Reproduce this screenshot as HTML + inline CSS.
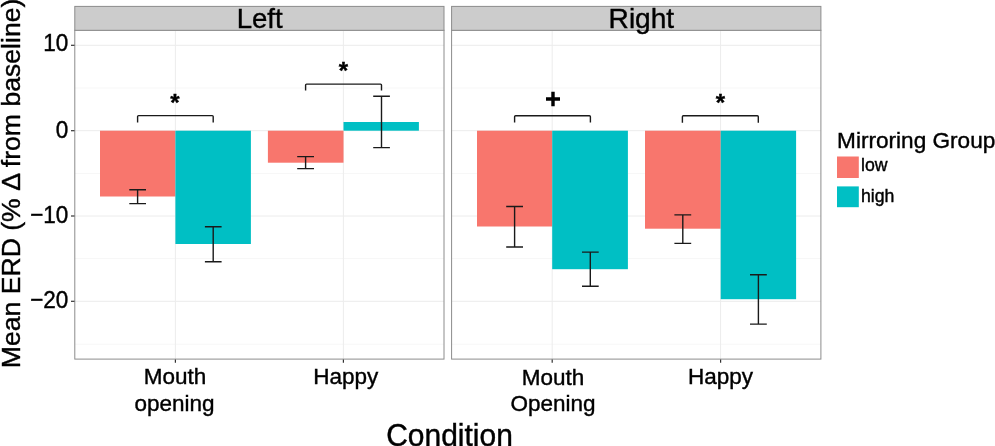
<!DOCTYPE html>
<html>
<head>
<meta charset="utf-8">
<style>
html,body{margin:0;padding:0;background:#fff;}
body{width:995px;height:446px;overflow:hidden;}
svg{display:block;will-change:transform;}
text{font-family:"Liberation Sans",sans-serif;fill:#000;stroke:#000;stroke-width:0.4px;}
.ax{font-size:22.5px;}
.grid{stroke:#ececec;stroke-width:1;}
.mgrid{stroke:#f7f7f7;stroke-width:1;}
.eb{stroke:#1a1a1a;stroke-width:1.4;fill:none;}
.br{stroke:#1a1a1a;stroke-width:1.4;fill:none;stroke-linejoin:round;}
.tick{stroke:#333;stroke-width:1.2;}
</style>
</head>
<body>
<svg width="995" height="446" viewBox="0 0 995 446">
<rect x="0" y="0" width="995" height="446" fill="#fff"/>

<!-- y axis title -->
<text transform="translate(19.8,368.2) rotate(-90)" font-size="26.6">Mean ERD (% Δ from baseline)</text>

<!-- LEFT PANEL -->
<g>
  <rect x="74.8" y="30.3" width="369.2" height="328.8" fill="#fff"/>
  <!-- minor grid -->
  <line class="mgrid" x1="75" x2="444" y1="88" y2="88"/>
  <line class="mgrid" x1="75" x2="444" y1="173.4" y2="173.4"/>
  <line class="mgrid" x1="75" x2="444" y1="258.6" y2="258.6"/>
  <line class="mgrid" x1="75" x2="444" y1="344.2" y2="344.2"/>
  <!-- major grid -->
  <line class="grid" x1="75" x2="444" y1="45.3" y2="45.3"/>
  <line class="grid" x1="75" x2="444" y1="130.7" y2="130.7"/>
  <line class="grid" x1="75" x2="444" y1="216" y2="216"/>
  <line class="grid" x1="75" x2="444" y1="301.3" y2="301.3"/>
  <line class="grid" x1="175.4" x2="175.4" y1="31" y2="359"/>
  <line class="grid" x1="343.4" x2="343.4" y1="31" y2="359"/>
  <!-- bars -->
  <rect x="100" y="130.7" width="75.4" height="65.8" fill="#F8766D"/>
  <rect x="175.4" y="130.7" width="75.5" height="113.3" fill="#00BFC4"/>
  <rect x="267.9" y="130.7" width="75.6" height="32" fill="#F8766D"/>
  <rect x="343.5" y="122" width="75.4" height="8.7" fill="#00BFC4"/>
  <!-- error bars -->
  <path class="eb" d="M129.3 189.7H146M137.6 189.7V203.6M129.3 203.6H146"/>
  <path class="eb" d="M204.9 226.7H221.6M213.2 226.7V261.7M204.9 261.7H221.6"/>
  <path class="eb" d="M297.2 156.6H314M305.6 156.6V168.6M297.2 168.6H314"/>
  <path class="eb" d="M373.2 96.3H389.9M381.5 96.3V147.6M373.2 147.6H389.9"/>
  <!-- brackets -->
  <path class="br" d="M137.6 122.4V116.6Q137.6 115.6 138.6 115.6H212.2Q213.2 115.6 213.2 116.6V122.4"/>
  <path class="br" d="M305.6 90.4V85.1Q305.6 84.1 306.6 84.1H380.5Q381.5 84.1 381.5 85.1V90.4"/>
  <text x="174.9" y="110.5" font-size="24" font-weight="bold" text-anchor="middle" stroke="none">*</text>
  <text x="343.5" y="79.1" font-size="24" font-weight="bold" text-anchor="middle" stroke="none">*</text>
  <!-- border -->
  <rect x="74.8" y="30.3" width="369.2" height="328.8" fill="none" stroke="#8c8c8c" stroke-width="1"/>
  <!-- strip -->
  <rect x="74.8" y="6.4" width="369.2" height="23.9" fill="#cccccc" stroke="#8c8c8c" stroke-width="1"/>
  <text x="259.7" y="27.9" font-size="27.6" text-anchor="middle">Left</text>
</g>

<!-- RIGHT PANEL -->
<g>
  <rect x="451.6" y="30.3" width="369.3" height="328.8" fill="#fff"/>
  <line class="mgrid" x1="452" x2="821" y1="88" y2="88"/>
  <line class="mgrid" x1="452" x2="821" y1="173.4" y2="173.4"/>
  <line class="mgrid" x1="452" x2="821" y1="258.6" y2="258.6"/>
  <line class="mgrid" x1="452" x2="821" y1="344.2" y2="344.2"/>
  <line class="grid" x1="452" x2="821" y1="45.3" y2="45.3"/>
  <line class="grid" x1="452" x2="821" y1="130.7" y2="130.7"/>
  <line class="grid" x1="452" x2="821" y1="216" y2="216"/>
  <line class="grid" x1="452" x2="821" y1="301.3" y2="301.3"/>
  <line class="grid" x1="552.2" x2="552.2" y1="31" y2="359"/>
  <line class="grid" x1="720.6" x2="720.6" y1="31" y2="359"/>
  <!-- bars -->
  <rect x="477" y="130.7" width="75.2" height="95.8" fill="#F8766D"/>
  <rect x="552.2" y="130.7" width="75.7" height="138.5" fill="#00BFC4"/>
  <rect x="645" y="130.7" width="75.7" height="98" fill="#F8766D"/>
  <rect x="720.7" y="130.7" width="75.4" height="168.5" fill="#00BFC4"/>
  <!-- error bars -->
  <path class="eb" d="M506.2 206.5H523M514.6 206.5V247M506.2 247H523"/>
  <path class="eb" d="M582 252.1H598.7M590.3 252.1V286.2M582 286.2H598.7"/>
  <path class="eb" d="M674.4 214.9H691.2M682.8 214.9V243.4M674.4 243.4H691.2"/>
  <path class="eb" d="M750 274.7H766.8M758.4 274.7V324.1M750 324.1H766.8"/>
  <!-- brackets -->
  <path class="br" d="M514.6 122.4V116.8Q514.6 115.8 515.6 115.8H589.4Q590.4 115.8 590.4 116.8V122.4"/>
  <path class="br" d="M682.4 122.8V116.8Q682.4 115.8 683.4 115.8H757.3Q758.3 115.8 758.3 116.8V122.8"/>
  <!-- plus -->
  <path d="M546 97.3H551.3V91.8H554.7V97.3H560V100.7H554.7V106.2H551.3V100.7H546Z" fill="#000"/>
  <text x="720.4" y="110.8" font-size="24" font-weight="bold" text-anchor="middle" stroke="none">*</text>
  <rect x="451.6" y="30.3" width="369.3" height="328.8" fill="none" stroke="#8c8c8c" stroke-width="1"/>
  <rect x="451.6" y="6.4" width="369.3" height="23.9" fill="#cccccc" stroke="#8c8c8c" stroke-width="1"/>
  <text x="641.4" y="28.4" font-size="28.1" text-anchor="middle">Right</text>
</g>

<!-- y ticks & labels -->
<g class="ax" text-anchor="end">
  <line class="tick" x1="71" x2="74.5" y1="45.3" y2="45.3"/>
  <line class="tick" x1="71" x2="74.5" y1="130.7" y2="130.7"/>
  <line class="tick" x1="71" x2="74.5" y1="216" y2="216"/>
  <line class="tick" x1="71" x2="74.5" y1="301.3" y2="301.3"/>
  <text transform="translate(68.3,50.9) scale(1,1.09)">10</text>
  <text transform="translate(68.3,137.6) scale(1,1.09)">0</text>
  <text transform="translate(68.3,222.9) scale(1,1.09)">−10</text>
  <text transform="translate(68.3,308.4) scale(1,1.09)">−20</text>
</g>

<!-- x ticks & labels -->
<g class="ax" text-anchor="middle">
  <line class="tick" x1="175.4" x2="175.4" y1="359.5" y2="362.8"/>
  <line class="tick" x1="343.4" x2="343.4" y1="359.5" y2="362.8"/>
  <line class="tick" x1="552.2" x2="552.2" y1="359.5" y2="362.8"/>
  <line class="tick" x1="720.6" x2="720.6" y1="359.5" y2="362.8"/>
  <text x="175" y="384.4">Mouth</text>
  <text x="174.6" y="410.6">opening</text>
  <text x="345.7" y="384.4">Happy</text>
  <text x="553" y="384.6">Mouth</text>
  <text x="553.1" y="411.1">Opening</text>
  <text x="720.5" y="384.4">Happy</text>
</g>

<!-- x title -->
<text transform="translate(449.5,445.5) scale(1,1.03)" font-size="30" text-anchor="middle">Condition</text>

<!-- legend -->
<text x="837.1" y="147.5" font-size="22.6">Mirroring Group</text>
<rect x="837" y="156.5" width="21.8" height="21.5" fill="#F8766D"/>
<rect x="837" y="186.4" width="21.8" height="20.8" fill="#00BFC4"/>
<text x="861" y="171.1" font-size="17.7">low</text>
<text x="861" y="201.5" font-size="17.7">high</text>
</svg>
</body>
</html>
